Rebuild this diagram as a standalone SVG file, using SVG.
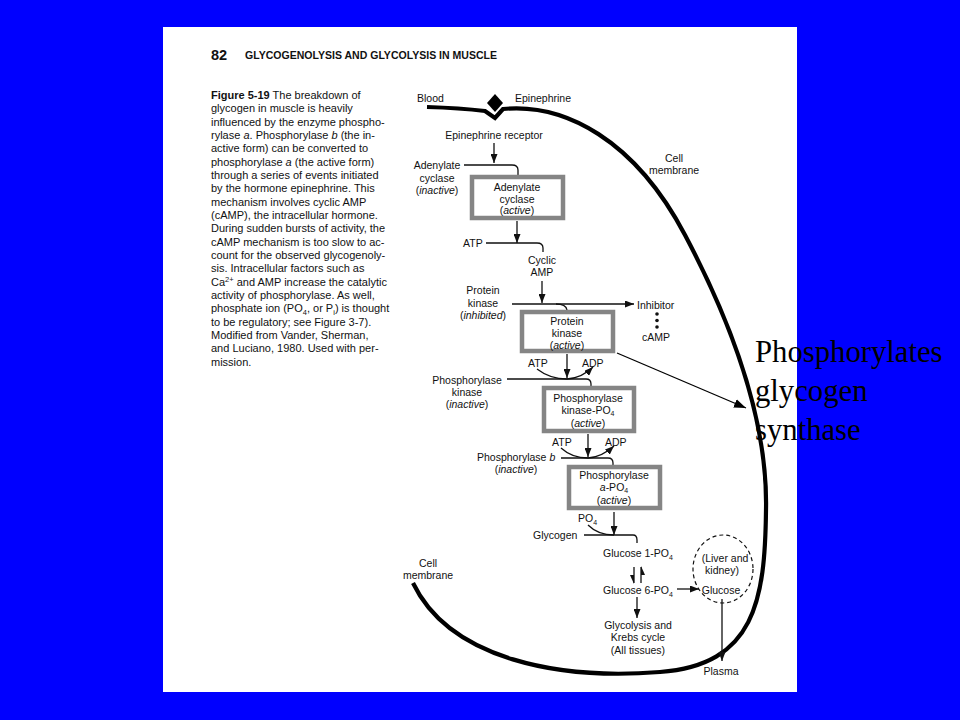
<svg xmlns="http://www.w3.org/2000/svg" width="960" height="720" viewBox="0 0 960 720">
<style>
.t{font-family:"Liberation Sans",Arial,sans-serif;font-size:10.5px;fill:#111}
.c{text-anchor:middle}
.cap{font-family:"Liberation Sans",Arial,sans-serif;font-size:11px;fill:#111}
.box{fill:none;stroke:#858585;stroke-width:4.5}
.ln{fill:none;stroke:#111;stroke-width:1.3}
.big{font-family:"Liberation Serif","Times New Roman",serif;font-size:30.7px;fill:#000}
.sub{font-size:7px}
</style>
<defs>
<marker id="ah" markerUnits="userSpaceOnUse" markerWidth="9" markerHeight="7" refX="9" refY="3.5" orient="auto"><path d="M0,0 L9,3.5 L0,7 z" fill="#111"/></marker>
<marker id="ah2" markerUnits="userSpaceOnUse" markerWidth="12" markerHeight="9" refX="12" refY="4.5" orient="auto"><path d="M0,0 L12,4.5 L0,9 z" fill="#000"/></marker>
</defs>
<rect width="960" height="720" fill="#0000ff"/>
<rect x="163" y="27" width="634" height="665" fill="#ffffff"/>

<g id="header">
<text x="211" y="59.5" font-family="Liberation Sans, Arial, sans-serif" font-size="14.5" font-weight="bold" fill="#111">82</text>
<text x="245" y="59.3" font-family="Liberation Sans, Arial, sans-serif" font-size="10.3" font-weight="bold" fill="#111" textLength="252" lengthAdjust="spacingAndGlyphs">GLYCOGENOLYSIS AND GLYCOLYSIS IN MUSCLE</text>
</g>

<g id="caption" class="cap">
<text x="211" y="99"><tspan font-weight="bold">Figure 5-19</tspan>  The breakdown of</text>
<text x="211" y="112.3">glycogen in muscle is heavily</text>
<text x="211" y="125.7">influenced by the enzyme phospho-</text>
<text x="211" y="139">rylase <tspan font-style="italic">a</tspan>. Phosphorylase <tspan font-style="italic">b</tspan> (the in-</text>
<text x="211" y="152.3">active form) can be converted to</text>
<text x="211" y="165.7">phosphorylase <tspan font-style="italic">a</tspan> (the active form)</text>
<text x="211" y="179">through a series of events initiated</text>
<text x="211" y="192.3">by the hormone epinephrine. This</text>
<text x="211" y="205.7">mechanism involves cyclic AMP</text>
<text x="211" y="219">(cAMP), the intracellular hormone.</text>
<text x="211" y="232.3">During sudden bursts of activity, the</text>
<text x="211" y="245.7">cAMP mechanism is too slow to ac-</text>
<text x="211" y="259">count for the observed glycogenoly-</text>
<text x="211" y="272.3">sis. Intracellular factors such as</text>
<text x="211" y="285.7">Ca<tspan font-size="7.5" dy="-4">2+</tspan><tspan dy="4"> and AMP increase the catalytic</tspan></text>
<text x="211" y="299">activity of phosphorylase. As well,</text>
<text x="211" y="312.3">phosphate ion (PO<tspan font-size="7.5" dy="2.5">4</tspan><tspan dy="-2.5">, or P</tspan><tspan font-size="7.5" dy="2.5">i</tspan><tspan dy="-2.5">) is thought</tspan></text>
<text x="211" y="325.7">to be regulatory; see Figure 3-7).</text>
<text x="211" y="339">Modified from Vander, Sherman,</text>
<text x="211" y="352.3">and Luciano, 1980. Used with per-</text>
<text x="211" y="365.7">mission.</text>
</g>

<g id="membrane">
<path d="M 427,107 Q 460,108 485,111 L 495,118 L 503,109 C 565,103 635,140 685,235 C 730,320 768,420 766,510 C 765,600 755,665 660,672 C 560,680 450,660 413,583" fill="none" stroke="#000" stroke-width="4.2" stroke-linejoin="miter"/>
<path d="M495,94 L503,103 L495,112 L487,103 z" fill="#000"/>
<text class="t" x="417" y="102">Blood</text>
<text class="t" x="515" y="102">Epinephrine</text>
<text class="t c" x="674" y="162">Cell</text>
<text class="t c" x="674" y="173.5">membrane</text>
<text class="t c" x="428" y="567">Cell</text>
<text class="t c" x="428" y="579">membrane</text>
</g>

<g id="connectors">
<line class="ln" x1="494" y1="143" x2="494" y2="163" marker-end="url(#ah)"/>
<path class="ln" d="M464,165 L512,165 Q518,165 518,170 L518,175"/>
<line class="ln" x1="517" y1="221" x2="517" y2="243" marker-end="url(#ah)"/>
<path class="ln" d="M486,243 L537,243 Q543,243 543,248 L543,252"/>
<line class="ln" x1="542" y1="281" x2="542" y2="303" marker-end="url(#ah)"/>
<path class="ln" d="M512,304 L634,304" marker-end="url(#ah)"/>
<path class="ln" d="M556,304 Q566,304 567,310"/>
<line class="ln" x1="567" y1="354" x2="567" y2="378" marker-end="url(#ah)"/>
<path class="ln" d="M537,369 Q550,379 567,379 Q582,378 593,367" marker-end="url(#ah)"/>
<path class="ln" d="M507,379 L586,379 Q591,379 591,384 L591,386"/>
<line class="ln" x1="588" y1="434" x2="588" y2="457" marker-end="url(#ah)"/>
<path class="ln" d="M561,448 Q572,458 588,458 Q602,457 614,446" marker-end="url(#ah)"/>
<path class="ln" d="M561,458 L608,458 Q613,458 613,463 L613,465"/>
<line class="ln" x1="614" y1="512" x2="614" y2="535" marker-end="url(#ah)"/>
<path class="ln" d="M588,525 Q598,535 614,535"/>
<path class="ln" d="M584,535 L633,535 Q637,535 637,540 L637,543"/>
<line class="ln" x1="634" y1="567" x2="634" y2="583"/>
<path d="M634,584 L630,575 L634,575 z" fill="#111"/>
<line class="ln" x1="641" y1="583" x2="641" y2="567"/>
<path d="M641,566 L645,575 L641,575 z" fill="#111"/>
<line class="ln" x1="677" y1="589" x2="699" y2="589" marker-end="url(#ah)"/>
<line class="ln" x1="637" y1="597" x2="637" y2="618" marker-end="url(#ah)"/>
<line class="ln" x1="722" y1="599" x2="722" y2="661" marker-end="url(#ah)"/>
<line x1="617" y1="353" x2="746" y2="408" stroke="#000" stroke-width="1.3" marker-end="url(#ah2)"/>
</g>

<g id="receptor"><text class="t c" x="494" y="139">Epinephrine receptor</text></g>
<g id="ac-inactive"><text class="t c" x="437" y="169">Adenylate</text><text class="t c" x="437" y="182">cyclase</text><text class="t c" x="437" y="194">(<tspan font-style="italic">inactive</tspan>)</text></g>
<g id="ac-active"><rect class="box" x="472" y="177" width="91" height="41"/><text class="t c" x="517" y="191">Adenylate</text><text class="t c" x="517" y="202.5">cyclase</text><text class="t c" x="517" y="214">(<tspan font-style="italic">active</tspan>)</text></g>
<g id="atp1"><text class="t" x="463" y="247">ATP</text></g>
<g id="camp"><text class="t c" x="542" y="264">Cyclic</text><text class="t c" x="542" y="276">AMP</text></g>
<g id="pk-inhibited"><text class="t c" x="483" y="294">Protein</text><text class="t c" x="483" y="307">kinase</text><text class="t c" x="483" y="319">(<tspan font-style="italic">inhibited</tspan>)</text></g>
<g id="inhibitor"><text class="t" x="637" y="309">Inhibitor</text><circle cx="657" cy="314" r="1.8" fill="#111"/><circle cx="657" cy="320.5" r="1.8" fill="#111"/><circle cx="657" cy="327" r="1.8" fill="#111"/><text class="t c" x="656" y="341">cAMP</text></g>
<g id="pk-active"><rect class="box" x="522" y="312" width="91" height="39"/><text class="t c" x="567" y="325">Protein</text><text class="t c" x="567" y="337">kinase</text><text class="t c" x="567" y="349">(<tspan font-style="italic">active</tspan>)</text></g>
<g id="atp-adp1"><text class="t" x="528" y="367">ATP</text><text class="t" x="582" y="367">ADP</text></g>
<g id="phk-inactive"><text class="t c" x="467" y="384">Phosphorylase</text><text class="t c" x="467" y="396">kinase</text><text class="t c" x="467" y="408">(<tspan font-style="italic">inactive</tspan>)</text></g>
<g id="phk-active"><rect class="box" x="544" y="388" width="90" height="43"/><text class="t c" x="588" y="401.5">Phosphorylase</text><text class="t c" x="588" y="413.5">kinase-PO<tspan class="sub" dy="2">4</tspan></text><text class="t c" x="588" y="427">(<tspan font-style="italic">active</tspan>)</text></g>
<g id="atp-adp2"><text class="t" x="552" y="446">ATP</text><text class="t" x="605" y="446">ADP</text></g>
<g id="phb-inactive"><text class="t" x="477" y="461">Phosphorylase <tspan font-style="italic">b</tspan></text><text class="t c" x="516" y="473">(<tspan font-style="italic">inactive</tspan>)</text></g>
<g id="pha-active"><rect class="box" x="569" y="467" width="91" height="41"/><text class="t c" x="614" y="479">Phosphorylase</text><text class="t c" x="614" y="491"><tspan font-style="italic">a</tspan>-PO<tspan class="sub" dy="2">4</tspan></text><text class="t c" x="614" y="504">(<tspan font-style="italic">active</tspan>)</text></g>
<g id="po4"><text class="t" x="578" y="522">PO<tspan class="sub" dy="2.5">4</tspan></text></g>
<g id="glycogen"><text class="t" x="533" y="539">Glycogen</text></g>
<g id="g1p"><text class="t c" x="638" y="557">Glucose 1-PO<tspan class="sub" dy="2.5">4</tspan></text></g>
<g id="g6p"><text class="t c" x="638" y="594">Glucose 6-PO<tspan class="sub" dy="2.5">4</tspan></text></g>
<g id="glycolysis"><text class="t c" x="638" y="629">Glycolysis and</text><text class="t c" x="638" y="641">Krebs cycle</text><text class="t c" x="638" y="654">(All tissues)</text></g>
<g id="liver"><ellipse cx="723" cy="569" rx="30" ry="34" fill="none" stroke="#111" stroke-width="1.2" stroke-dasharray="4 3"/><text class="t c" x="725" y="562">(Liver and</text><text class="t c" x="722" y="574">kidney)</text><text class="t c" x="721" y="594">Glucose</text></g>
<g id="plasma"><text class="t c" x="721" y="675">Plasma</text></g>
<g id="note"><text class="big" x="755" y="362">Phosphorylates</text><text class="big" x="755" y="401">glycogen</text><text class="big" x="755" y="440">synthase</text></g>
</svg>
